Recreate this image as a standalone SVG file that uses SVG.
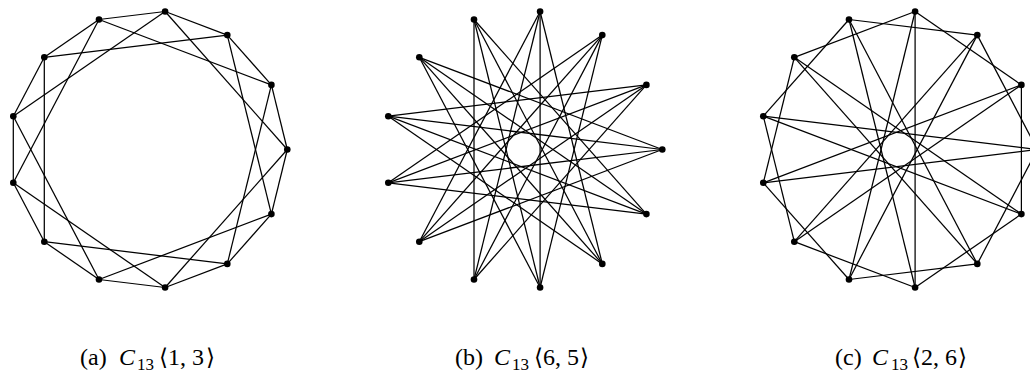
<svg xmlns="http://www.w3.org/2000/svg" width="1030" height="373" viewBox="0 0 1030 373">
<style>
.e line{stroke:#000;stroke-width:1.25;fill:none}
.n circle{fill:#000}
.lbl{font-family:"Liberation Serif","DejaVu Serif",serif;font-size:24px;fill:#000}
.it{font-style:italic}
.sub{font-size:17px}
.br{font-family:"DejaVu Serif","DejaVu Sans",serif;font-size:23px}
</style>
<defs>
<circle id="dot" r="3.3"/>
</defs>
<rect width="1030" height="373" fill="#fff"/>

<!-- (a) C13<1,3> -->
<g id="graph-a">
<g id="edges-a" class="e">
<line x1="287.3" y1="149.5" x2="271.4" y2="84.9"/>
<line x1="271.4" y1="84.9" x2="227.3" y2="35.1"/>
<line x1="227.3" y1="35.1" x2="165.1" y2="11.5"/>
<line x1="165.1" y1="11.5" x2="99" y2="19.5"/>
<line x1="99" y1="19.5" x2="44.3" y2="57.3"/>
<line x1="44.3" y1="57.3" x2="13.3" y2="116.2"/>
<line x1="13.3" y1="116.2" x2="13.3" y2="182.8"/>
<line x1="13.3" y1="182.8" x2="44.3" y2="241.7"/>
<line x1="44.3" y1="241.7" x2="99" y2="279.5"/>
<line x1="99" y1="279.5" x2="165.1" y2="287.5"/>
<line x1="165.1" y1="287.5" x2="227.3" y2="263.9"/>
<line x1="227.3" y1="263.9" x2="271.4" y2="214.1"/>
<line x1="271.4" y1="214.1" x2="287.3" y2="149.5"/>
<line x1="287.3" y1="149.5" x2="165.1" y2="11.5"/>
<line x1="271.4" y1="84.9" x2="99" y2="19.5"/>
<line x1="227.3" y1="35.1" x2="44.3" y2="57.3"/>
<line x1="165.1" y1="11.5" x2="13.3" y2="116.2"/>
<line x1="99" y1="19.5" x2="13.3" y2="182.8"/>
<line x1="44.3" y1="57.3" x2="44.3" y2="241.7"/>
<line x1="13.3" y1="116.2" x2="99" y2="279.5"/>
<line x1="13.3" y1="182.8" x2="165.1" y2="287.5"/>
<line x1="44.3" y1="241.7" x2="227.3" y2="263.9"/>
<line x1="99" y1="279.5" x2="271.4" y2="214.1"/>
<line x1="165.1" y1="287.5" x2="287.3" y2="149.5"/>
<line x1="227.3" y1="263.9" x2="271.4" y2="84.9"/>
<line x1="271.4" y1="214.1" x2="227.3" y2="35.1"/>
</g>
<g id="a0" class="n"><use href="#dot" x="287.3" y="149.5"/></g>
<g id="a1" class="n"><use href="#dot" x="271.4" y="84.9"/></g>
<g id="a2" class="n"><use href="#dot" x="227.3" y="35.1"/></g>
<g id="a3" class="n"><use href="#dot" x="165.1" y="11.5"/></g>
<g id="a4" class="n"><use href="#dot" x="99" y="19.5"/></g>
<g id="a5" class="n"><use href="#dot" x="44.3" y="57.3"/></g>
<g id="a6" class="n"><use href="#dot" x="13.3" y="116.2"/></g>
<g id="a7" class="n"><use href="#dot" x="13.3" y="182.8"/></g>
<g id="a8" class="n"><use href="#dot" x="44.3" y="241.7"/></g>
<g id="a9" class="n"><use href="#dot" x="99" y="279.5"/></g>
<g id="a10" class="n"><use href="#dot" x="165.1" y="287.5"/></g>
<g id="a11" class="n"><use href="#dot" x="227.3" y="263.9"/></g>
<g id="a12" class="n"><use href="#dot" x="271.4" y="214.1"/></g>
</g>

<!-- (b) C13<6,5> -->
<g id="graph-b" transform="translate(375,0)">
<g id="edges-b" class="e">
<line x1="287.3" y1="149.5" x2="44.3" y2="57.3"/>
<line x1="271.4" y1="84.9" x2="13.3" y2="116.2"/>
<line x1="227.3" y1="35.1" x2="13.3" y2="182.8"/>
<line x1="165.1" y1="11.5" x2="44.3" y2="241.7"/>
<line x1="99" y1="19.5" x2="99" y2="279.5"/>
<line x1="44.3" y1="57.3" x2="165.1" y2="287.5"/>
<line x1="13.3" y1="116.2" x2="227.3" y2="263.9"/>
<line x1="13.3" y1="182.8" x2="271.4" y2="214.1"/>
<line x1="44.3" y1="241.7" x2="287.3" y2="149.5"/>
<line x1="99" y1="279.5" x2="271.4" y2="84.9"/>
<line x1="165.1" y1="287.5" x2="227.3" y2="35.1"/>
<line x1="227.3" y1="263.9" x2="165.1" y2="11.5"/>
<line x1="271.4" y1="214.1" x2="99" y2="19.5"/>
<line x1="287.3" y1="149.5" x2="13.3" y2="116.2"/>
<line x1="271.4" y1="84.9" x2="13.3" y2="182.8"/>
<line x1="227.3" y1="35.1" x2="44.3" y2="241.7"/>
<line x1="165.1" y1="11.5" x2="99" y2="279.5"/>
<line x1="99" y1="19.5" x2="165.1" y2="287.5"/>
<line x1="44.3" y1="57.3" x2="227.3" y2="263.9"/>
<line x1="13.3" y1="116.2" x2="271.4" y2="214.1"/>
<line x1="13.3" y1="182.8" x2="287.3" y2="149.5"/>
<line x1="44.3" y1="241.7" x2="271.4" y2="84.9"/>
<line x1="99" y1="279.5" x2="227.3" y2="35.1"/>
<line x1="165.1" y1="287.5" x2="165.1" y2="11.5"/>
<line x1="227.3" y1="263.9" x2="99" y2="19.5"/>
<line x1="271.4" y1="214.1" x2="44.3" y2="57.3"/>
</g>
<g id="b0" class="n"><use href="#dot" x="287.3" y="149.5"/></g>
<g id="b1" class="n"><use href="#dot" x="271.4" y="84.9"/></g>
<g id="b2" class="n"><use href="#dot" x="227.3" y="35.1"/></g>
<g id="b3" class="n"><use href="#dot" x="165.1" y="11.5"/></g>
<g id="b4" class="n"><use href="#dot" x="99" y="19.5"/></g>
<g id="b5" class="n"><use href="#dot" x="44.3" y="57.3"/></g>
<g id="b6" class="n"><use href="#dot" x="13.3" y="116.2"/></g>
<g id="b7" class="n"><use href="#dot" x="13.3" y="182.8"/></g>
<g id="b8" class="n"><use href="#dot" x="44.3" y="241.7"/></g>
<g id="b9" class="n"><use href="#dot" x="99" y="279.5"/></g>
<g id="b10" class="n"><use href="#dot" x="165.1" y="287.5"/></g>
<g id="b11" class="n"><use href="#dot" x="227.3" y="263.9"/></g>
<g id="b12" class="n"><use href="#dot" x="271.4" y="214.1"/></g>
</g>

<!-- (c) C13<2,6> -->
<g id="graph-c" transform="translate(750,0)">
<g id="edges-c" class="e">
<line x1="287.3" y1="149.5" x2="227.3" y2="35.1"/>
<line x1="271.4" y1="84.9" x2="165.1" y2="11.5"/>
<line x1="227.3" y1="35.1" x2="99" y2="19.5"/>
<line x1="165.1" y1="11.5" x2="44.3" y2="57.3"/>
<line x1="99" y1="19.5" x2="13.3" y2="116.2"/>
<line x1="44.3" y1="57.3" x2="13.3" y2="182.8"/>
<line x1="13.3" y1="116.2" x2="44.3" y2="241.7"/>
<line x1="13.3" y1="182.8" x2="99" y2="279.5"/>
<line x1="44.3" y1="241.7" x2="165.1" y2="287.5"/>
<line x1="99" y1="279.5" x2="227.3" y2="263.9"/>
<line x1="165.1" y1="287.5" x2="271.4" y2="214.1"/>
<line x1="227.3" y1="263.9" x2="287.3" y2="149.5"/>
<line x1="271.4" y1="214.1" x2="271.4" y2="84.9"/>
<line x1="287.3" y1="149.5" x2="13.3" y2="116.2"/>
<line x1="271.4" y1="84.9" x2="13.3" y2="182.8"/>
<line x1="227.3" y1="35.1" x2="44.3" y2="241.7"/>
<line x1="165.1" y1="11.5" x2="99" y2="279.5"/>
<line x1="99" y1="19.5" x2="165.1" y2="287.5"/>
<line x1="44.3" y1="57.3" x2="227.3" y2="263.9"/>
<line x1="13.3" y1="116.2" x2="271.4" y2="214.1"/>
<line x1="13.3" y1="182.8" x2="287.3" y2="149.5"/>
<line x1="44.3" y1="241.7" x2="271.4" y2="84.9"/>
<line x1="99" y1="279.5" x2="227.3" y2="35.1"/>
<line x1="165.1" y1="287.5" x2="165.1" y2="11.5"/>
<line x1="227.3" y1="263.9" x2="99" y2="19.5"/>
<line x1="271.4" y1="214.1" x2="44.3" y2="57.3"/>
</g>
<g id="c0" class="n"><use href="#dot" x="287.3" y="149.5"/></g>
<g id="c1" class="n"><use href="#dot" x="271.4" y="84.9"/></g>
<g id="c2" class="n"><use href="#dot" x="227.3" y="35.1"/></g>
<g id="c3" class="n"><use href="#dot" x="165.1" y="11.5"/></g>
<g id="c4" class="n"><use href="#dot" x="99" y="19.5"/></g>
<g id="c5" class="n"><use href="#dot" x="44.3" y="57.3"/></g>
<g id="c6" class="n"><use href="#dot" x="13.3" y="116.2"/></g>
<g id="c7" class="n"><use href="#dot" x="13.3" y="182.8"/></g>
<g id="c8" class="n"><use href="#dot" x="44.3" y="241.7"/></g>
<g id="c9" class="n"><use href="#dot" x="99" y="279.5"/></g>
<g id="c10" class="n"><use href="#dot" x="165.1" y="287.5"/></g>
<g id="c11" class="n"><use href="#dot" x="227.3" y="263.9"/></g>
<g id="c12" class="n"><use href="#dot" x="271.4" y="214.1"/></g>
</g>

<!-- captions -->
<g id="captions">
<text class="lbl" y="365"><tspan x="80">(a)</tspan><tspan x="119" class="it">C</tspan><tspan x="137" y="369.5" class="sub">13</tspan><tspan x="159" y="365" class="br">⟨</tspan><tspan x="168">1, 3</tspan><tspan x="206" class="br">⟩</tspan></text>
<text class="lbl" y="365"><tspan x="455">(b)</tspan><tspan x="494" class="it">C</tspan><tspan x="512" y="369.5" class="sub">13</tspan><tspan x="534" y="365" class="br">⟨</tspan><tspan x="543">6, 5</tspan><tspan x="580" class="br">⟩</tspan></text>
<text class="lbl" y="365"><tspan x="835">(c)</tspan><tspan x="872" class="it">C</tspan><tspan x="891" y="369.5" class="sub">13</tspan><tspan x="912" y="365" class="br">⟨</tspan><tspan x="921">2, 6</tspan><tspan x="958" class="br">⟩</tspan></text>
</g>
</svg>
